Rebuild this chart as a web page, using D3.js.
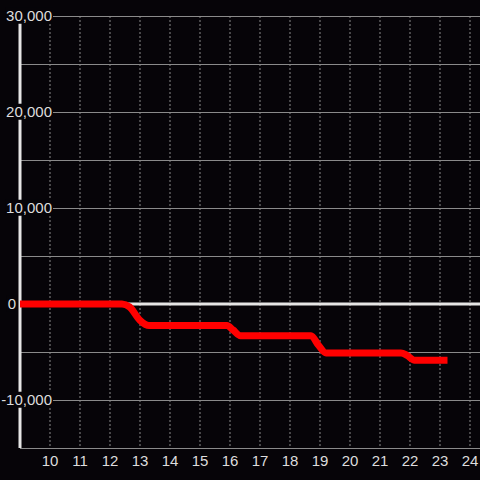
<!DOCTYPE html>
<html>
<head>
<meta charset="utf-8">
<script src="https://cdn.jsdelivr.net/npm/d3@7"></script>
<style>
  body{margin:0;background:#060408;}
  svg{display:block;}
</style>
</head>
<body>
<div class="canvas"></div>
<script>
  //時刻(時)と値
  var hours  = [9, 12.4, 12.65, 13.0, 13.3, 15.9, 16.1, 16.35, 18.7, 18.95, 19.2, 21.7, 21.9, 22.15, 23.25];
  var values = [0, 0, -300, -1700, -2250, -2250, -2700, -3300, -3300, -4300, -5100, -5100, -5350, -5850, -5850];

  //軸の目盛り
  var xticks = [10, 11, 12, 13, 14, 15, 16, 17, 18, 19, 20, 21, 22, 23, 24];
  var ygrid  = [30000, 25000, 20000, 15000, 10000, 5000, -5000, -10000, -15000];
  var ylabels = [30000, 20000, 10000, 0, -10000];

  var width = 480;
  var height = 480;
  var bg = "#060408";

  var svg = d3.select(".canvas")
    .append("svg")
      .attr("width", width)
      .attr("height", height)
      .style("background", bg)
      .style("font-family", "'Liberation Sans', Arial, sans-serif");

  //スケール
  var xscale = d3.scaleLinear()
      .domain([9, 24 + 1/3])
      .range([20, 480]);

  var yscale = d3.scaleLinear()
      .domain([-15000, 30000])
      .range([448, 16]);

  //縦のグリッド(点線)
  svg.append("g").selectAll("line")
    .data(xticks)
    .enter().append("line")
      .attr("x1", function(d){ return xscale(d); })
      .attr("x2", function(d){ return xscale(d); })
      .attr("y1", yscale(30000))
      .attr("y2", yscale(-15000))
      .attr("stroke", "#8a8a8a")
      .attr("stroke-dasharray", "2,2");

  //横のグリッド
  svg.append("g").selectAll("line")
    .data(ygrid)
    .enter().append("line")
      .attr("x1", xscale(9))
      .attr("x2", width)
      .attr("y1", function(d){ return yscale(d) + 0.5; })
      .attr("y2", function(d){ return yscale(d) + 0.5; })
      .attr("stroke", "#8a8a8a");

  //y軸とゼロライン
  svg.append("line")
    .attr("x1", xscale(9)).attr("x2", xscale(9))
    .attr("y1", yscale(30000)).attr("y2", yscale(-15000))
    .attr("stroke", "#e6e6e6")
    .attr("stroke-width", 3);

  svg.append("line")
    .attr("x1", xscale(9)).attr("x2", width)
    .attr("y1", yscale(0)).attr("y2", yscale(0))
    .attr("stroke", "#e6e6e6")
    .attr("stroke-width", 3);

  //折れ線
  var data = hours.map(function(h, i){ return [h, values[i]]; });
  var line = d3.line()
      .x(function(d){ return xscale(d[0]); })
      .y(function(d){ return yscale(d[1]); })
      .curve(d3.curveMonotoneX);

  svg.append("path")
    .datum(data)
    .attr("d", line)
    .attr("fill", "none")
    .attr("stroke", "#ff0000")
    .attr("stroke-width", 7);

  //y軸ラベル(背景つき)
  var fmt = d3.format(",");
  var yl = svg.append("g").selectAll("g")
    .data(ylabels)
    .enter().append("g");

  yl.append("text")
    .text(function(d){ return fmt(d).replace("−", "-"); })
    .attr("x", function(d){ return d === 0 ? 16 : 52; })
    .attr("y", function(d){ return yscale(d); })
    .attr("dy", "0.35em")
    .attr("text-anchor", "end")
    .attr("fill", "#dddddd")
    .attr("font-size", 15)
    .each(function(){
      var b = this.getBBox();
      d3.select(this.parentNode).insert("rect", "text")
        .attr("x", b.x - 1)
        .attr("y", b.y + b.height / 2 - 8)
        .attr("width", b.width + 2)
        .attr("height", 16)
        .attr("fill", bg);
    });

  //x軸ラベル
  svg.append("g").selectAll("text")
    .data(xticks)
    .enter().append("text")
      .text(function(d){ return d; })
      .attr("x", function(d){ return xscale(d); })
      .attr("y", 466)
      .attr("text-anchor", "middle")
      .attr("fill", "#dddddd")
      .attr("font-size", 15);
</script>
</body>
</html>
